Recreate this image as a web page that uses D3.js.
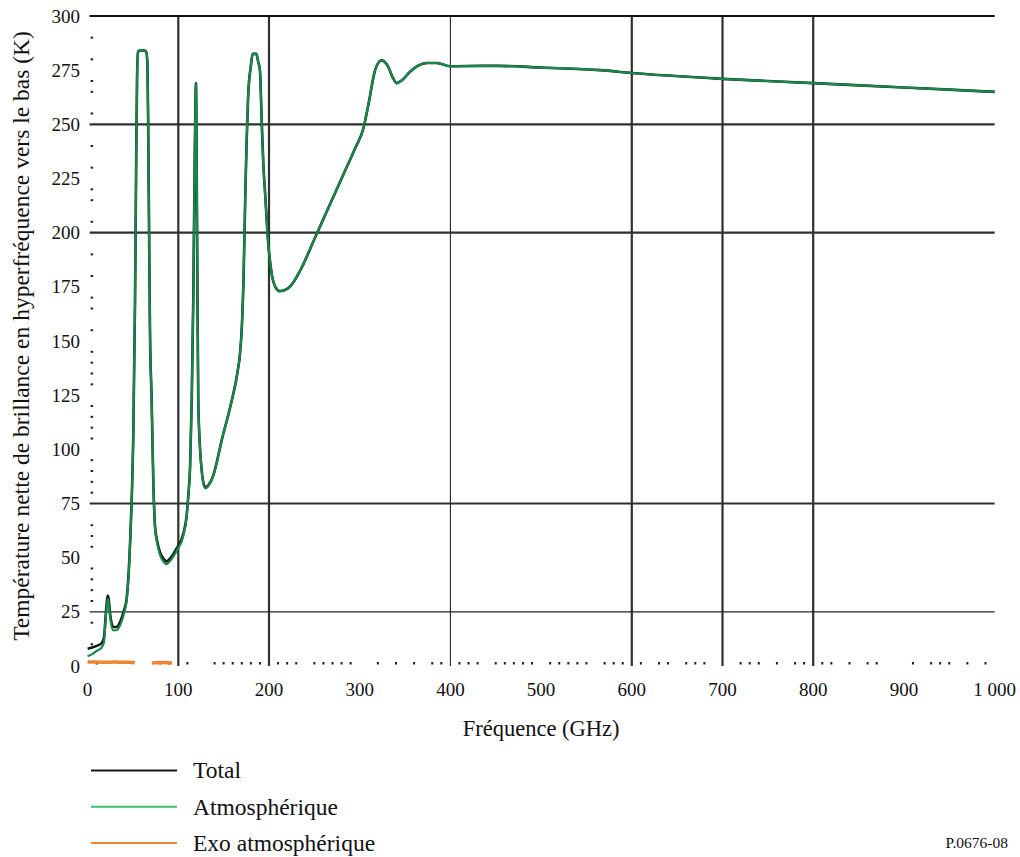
<!DOCTYPE html>
<html>
<head>
<meta charset="utf-8">
<script src="https://cdn.jsdelivr.net/npm/d3@7"></script>
<style>
  html, body { margin: 0; padding: 0; background: #fff; }
  svg { display: block; }
  svg text { font-family: "Liberation Serif", "DejaVu Serif", serif; }
</style>
</head>
<body>
<svg id="chart" width="1020" height="857"></svg>
<script>
// Frequency samples (GHz) shared by the total and atmospheric curves
const freqs = [0, 5, 10, 15, 18, 20, 22, 23, 25, 28, 32, 36, 40, 43, 45, 47, 48.6, 50.4, 52.3, 53.5, 54.5, 55.5,
  58, 62, 64.5, 66, 67, 68, 68.8, 70.6, 72.5, 74.3, 77, 80, 84, 87, 92, 98, 105.5, 109, 111, 113, 114.8, 116.5,
  118, 119, 119.5, 120, 121, 122, 124, 125.8, 129.5, 133, 138, 149, 157, 165, 168, 170, 172, 174, 175.4, 177,
  180, 182, 186, 188, 190, 192, 193.7, 195.6, 199, 203, 207, 212, 223, 235, 250, 265, 280, 295, 304, 310,
  317, 324, 331.5, 336, 340.8, 347, 355.5, 364, 374, 385, 400, 436, 452, 500, 565, 600, 700, 800, 900, 1000];

// Atmospheric downwelling brightness temperature (K)
const atmospheric = [4.5, 5.5, 7, 8.3, 11, 22, 31, 30, 22, 16.5, 16.5, 19, 24, 30, 40, 58, 76, 107, 169, 230, 270, 283.5,
  284, 284, 283.5, 278, 240, 190, 154, 123, 84, 64, 56, 51, 48, 47, 49, 53, 60, 68, 78, 92, 123, 169,
  230, 262, 269, 250, 180, 123, 100, 90, 82, 83, 87, 106, 119, 135, 144, 156, 180, 220, 243, 263,
  277, 282.5, 282.5, 279, 275, 251, 232, 219, 196, 181, 175, 173, 175, 183, 197, 211, 225, 239, 248, 260,
  275, 279.5, 276.5, 272, 269, 270.5, 274.3, 277, 278.3, 278.3, 276.8, 277, 277, 276.2, 275, 273.7, 271, 269, 267, 265];

// Total (atmospheric + extra-atmospheric contribution) brightness temperature (K)
const total = [8, 8.5, 9.3, 10.3, 13, 23.5, 32.5, 31.5, 23.5, 18, 18, 20.5, 25.5, 31, 41, 58.5, 76.5, 107, 169, 230, 270, 283.5,
  284, 284, 283.5, 278, 240, 190, 154, 123, 84.5, 64.8, 57, 52.3, 49.3, 48.3, 50.2, 54.2, 61, 68.7, 78.5, 92, 123, 169,
  230, 262, 269, 250, 180, 123, 100.3, 90.3, 82.5, 83.4, 87.3, 106.2, 119.1, 135, 144, 156, 180, 220, 243, 263,
  277, 282.5, 282.5, 279, 275, 251, 232, 219, 196, 181, 175, 173, 175, 183, 197, 211, 225, 239, 248, 260,
  275, 279.5, 276.5, 272, 269, 270.5, 274.3, 277, 278.3, 278.3, 276.8, 277, 277, 276.2, 275, 273.7, 271, 269, 267, 265];

// Extra-atmospheric (cosmic background) component reaching the ground (K); null where it vanishes
const exoFreqs = [0, 10, 20, 30, 40, 45, 50, 52, 53, 70, 71, 80, 90, 93, 94];
const exoValues = [1.8, 1.8, 1.7, 1.8, 1.7, 1.7, 1.6, 1.4, null, null, 1.4, 1.6, 1.5, 1.4, null];

// Axis ticks
const xTicks = [0, 100, 200, 300, 400, 500, 600, 700, 800, 900, 1000];
const xTickLabels = ["0", "100", "200", "300", "400", "500", "600", "700", "800", "900", "1 000"];
const yTicks = [0, 25, 50, 75, 100, 125, 150, 175, 200, 225, 250, 275, 300];

// Grid lines drawn across the plot
const xGrid = [100, 200, 400, 600, 700, 800];
const xGridLight = [400];
const yGrid = [25, 75, 200, 250, 300];
const yGridLight = [25];

// Minor tick marks (K and GHz)
const yMinor = [10, 20, 30, 35, 40, 45, 55, 60, 65, 80, 85, 90, 95, 105, 110, 115, 120, 130, 135, 140, 145,
  155, 165, 170, 180, 190, 205, 215, 220, 230, 240, 255, 265, 270, 280, 290];
const xMinor = [10, 80, 90, 110, 140, 150, 160, 170, 180, 190, 210, 220, 230, 250, 260, 270, 280, 290, 320, 340,
  360, 380, 390, 410, 420, 430, 450, 460, 470, 480, 490, 510, 520, 530, 540, 550, 570, 580, 590, 610, 630,
  640, 660, 670, 680, 720, 730, 740, 760, 780, 790, 810, 820, 840, 860, 870, 910, 930, 940, 950, 970, 990];

const seriesNames = ["Total", "Atmosphérique", "Exo atmosphérique"];

const FONT = "Liberation Serif, DejaVu Serif, serif";
const svg = d3.select("#chart").attr("font-family", FONT);
const x = d3.scaleLinear().domain([0, 1000]).range([87.6, 994.6]);
const y = d3.scaleLinear().domain([0, 300]).range([666, 16]);
const [x0, x1] = x.range();
const [yb, yt] = y.range();

const colors = { total: "#161616", atm: "#14894a", atmKey: "#3ec26f", exo: "#f0842f" };

// Grid
const grid = svg.append("g");
grid.selectAll(".vg").data(xGrid).join("line")
  .attr("x1", d => x(d)).attr("x2", d => x(d))
  .attr("y1", yt).attr("y2", yb)
  .attr("stroke", d => xGridLight.includes(d) ? "#222" : "#303030")
  .attr("stroke-width", d => xGridLight.includes(d) ? 1.1 : 2.2);
grid.selectAll(".hg").data(yGrid).join("line")
  .attr("x1", x0 + 2).attr("x2", x1)
  .attr("y1", d => y(d)).attr("y2", d => y(d))
  .attr("stroke", d => d === 300 ? "#111" : (yGridLight.includes(d) ? "#222" : "#303030"))
  .attr("stroke-width", d => yGridLight.includes(d) ? 1.1 : 2.2);

// Minor tick dots
svg.append("g").selectAll("rect").data(yMinor).join("rect")
  .attr("x", x0 + 3).attr("y", d => y(d) - 1)
  .attr("width", 2.5).attr("height", 2).attr("fill", "#222");
svg.append("g").selectAll("rect").data(xMinor).join("rect")
  .attr("x", d => x(d) - 1).attr("y", yb - 4)
  .attr("width", 2).attr("height", 2.5).attr("fill", "#222");

// Curves
const line = d3.line().x(d => x(d[0])).y(d => y(d[1])).defined(d => d[1] != null).curve(d3.curveMonotoneX);
const totalData = freqs.map((f, i) => [f, total[i]]);
const atmData = freqs.map((f, i) => [f, atmospheric[i]]);
const exoData = exoFreqs.map((f, i) => [f, exoValues[i]]);

svg.append("path").datum(exoData).attr("d", line)
  .attr("fill", "none").attr("stroke", colors.exo).attr("stroke-width", 3.5);
svg.append("path").datum(totalData).attr("d", line)
  .attr("fill", "none").attr("stroke", colors.total).attr("stroke-width", 2.6).attr("stroke-linejoin", "round");
svg.append("path").datum(atmData).attr("d", line)
  .attr("fill", "none").attr("stroke", colors.atm).attr("stroke-width", 2.2).attr("stroke-linejoin", "round");

// Tick labels
svg.append("g").selectAll("text").data(yTicks).join("text")
  .attr("font-family", FONT)
  .attr("x", 80).attr("y", d => y(d)).attr("dy", "0.35em")
  .attr("text-anchor", "end").attr("font-size", 19).attr("fill", "#111")
  .text(d => d);
svg.append("g").selectAll("text").data(xTicks).join("text")
  .attr("font-family", FONT)
  .attr("x", d => x(d)).attr("y", 689).attr("dy", "0.35em")
  .attr("text-anchor", "middle").attr("font-size", 19).attr("fill", "#111")
  .text((d, i) => xTickLabels[i]);

// Axis titles
svg.append("text").attr("font-family", FONT)
  .attr("x", (x0 + x1) / 2).attr("y", 728).attr("dy", "0.35em")
  .attr("text-anchor", "middle").attr("font-size", 22.5).attr("fill", "#111")
  .text("Fréquence (GHz)");
svg.append("text").attr("font-family", FONT)
  .attr("transform", `translate(21,${(yt + yb) / 2 - 5}) rotate(-90)`)
  .attr("dy", "0.35em").attr("text-anchor", "middle").attr("font-size", 23.5).attr("fill", "#111")
  .text("Température nette de brillance en hyperfréquence vers le bas (K)");

// Legend
const keyColors = [colors.total, colors.atmKey, colors.exo];
const legendY = d3.scalePoint().domain(seriesNames).range([770.5, 843]);
const legend = svg.append("g").selectAll("g").data(seriesNames).join("g")
  .attr("transform", d => `translate(0,${legendY(d)})`);
legend.append("line").attr("x1", 91).attr("x2", 177).attr("y1", 0).attr("y2", 0)
  .attr("stroke", (d, i) => keyColors[i]).attr("stroke-width", 2);
legend.append("text").attr("font-family", FONT)
  .attr("x", 193).attr("y", 0).attr("dy", "0.33em")
  .attr("font-size", 23.5).attr("fill", "#111").text(d => d);

svg.append("text").attr("font-family", FONT)
  .attr("x", 1008).attr("y", 843).attr("dy", "0.35em")
  .attr("text-anchor", "end").attr("font-size", 15.5).attr("fill", "#111")
  .text("P.0676-08");
</script>
</body>
</html>
